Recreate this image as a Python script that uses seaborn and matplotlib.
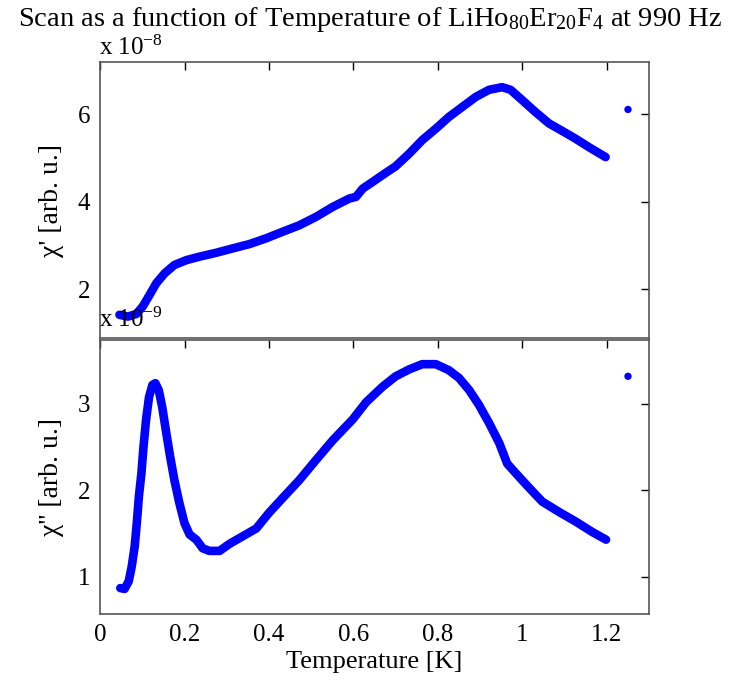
import matplotlib
matplotlib.use("Agg")
import matplotlib.pyplot as plt
import seaborn as sns
import pandas as pd

sns.set_theme(style="white")
plt.rcParams['font.family'] = ['Liberation Serif', 'DejaVu Serif']
plt.rcParams['mathtext.fontset'] = 'custom'
plt.rcParams['mathtext.rm'] = 'Liberation Serif'
plt.rcParams['mathtext.it'] = 'Liberation Serif'
plt.rcParams['text.color'] = 'black'
plt.rcParams['axes.labelcolor'] = 'black'
plt.rcParams['xtick.color'] = 'black'
plt.rcParams['ytick.color'] = 'black'

# chi' (x 1e-8)
t_re = [0.046, 0.066, 0.086, 0.101, 0.117, 0.133, 0.153, 0.176, 0.204, 0.235, 0.275,
        0.314, 0.354, 0.393, 0.432, 0.472, 0.511, 0.551, 0.59, 0.606, 0.622, 0.645,
        0.669, 0.70, 0.732, 0.763, 0.795, 0.826, 0.858, 0.89, 0.921, 0.952, 0.972,
        1.0, 1.031, 1.063, 1.094, 1.126, 1.157, 1.197]
chi_re = [1.41, 1.37, 1.43, 1.60, 1.86, 2.13, 2.36, 2.55, 2.66, 2.74, 2.83,
          2.93, 3.03, 3.16, 3.31, 3.46, 3.65, 3.88, 4.07, 4.11, 4.30, 4.45,
          4.61, 4.81, 5.10, 5.41, 5.67, 5.94, 6.17, 6.40, 6.56, 6.62, 6.56,
          6.32, 6.05, 5.79, 5.62, 5.44, 5.25, 5.02]
t_re_out = [1.25]
chi_re_out = [6.11]

# chi'' (x 1e-9)
t_im = [0.048, 0.058, 0.068, 0.075, 0.082, 0.087, 0.092, 0.098, 0.103, 0.109, 0.116,
        0.124, 0.131, 0.139, 0.147, 0.157, 0.166, 0.176, 0.188, 0.2, 0.212, 0.228,
        0.243, 0.259, 0.283, 0.306, 0.338, 0.37, 0.40, 0.432, 0.472, 0.511, 0.551,
        0.598, 0.63, 0.669, 0.70, 0.732, 0.763, 0.795, 0.826, 0.85, 0.874, 0.897,
        0.921, 0.945, 0.964, 0.984, 1.016, 1.047, 1.087, 1.126, 1.165, 1.198]
chi_im = [0.87, 0.86, 0.95, 1.12, 1.35, 1.62, 1.93, 2.20, 2.51, 2.82, 3.08,
          3.22, 3.24, 3.16, 2.97, 2.66, 2.39, 2.12, 1.85, 1.62, 1.49, 1.43,
          1.33, 1.30, 1.30, 1.38, 1.47, 1.56, 1.74, 1.91, 2.12, 2.35, 2.58,
          2.82, 3.02, 3.20, 3.32, 3.40, 3.46, 3.46, 3.39, 3.30, 3.16, 2.99,
          2.78, 2.55, 2.31, 2.20, 2.03, 1.87, 1.75, 1.64, 1.52, 1.43]
t_im_out = [1.25]
chi_im_out = [3.32]

xticks = [0, 0.2, 0.4, 0.6, 0.8, 1.0, 1.2]
xticklabels = ['0', '0.2', '0.4', '0.6', '0.8', '1', '1.2']

df_re = pd.DataFrame({'T': t_re, 'chi': chi_re})
df_im = pd.DataFrame({'T': t_im, 'chi': chi_im})

fig = plt.figure(figsize=(7.41, 6.92), dpi=100)
ax1 = fig.add_axes([0.135, 0.5116, 0.741, 0.3984])
ax2 = fig.add_axes([0.135, 0.1127, 0.741, 0.396])

blue = '#0000ff'
for ax, df, tx, ty in [(ax1, df_re, t_re_out, chi_re_out), (ax2, df_im, t_im_out, chi_im_out)]:
    sns.lineplot(data=df, x='T', y='chi', ax=ax, color=blue, linewidth=6.2,
                 solid_capstyle='round', solid_joinstyle='round', legend=False,
                 sort=False)
    sns.scatterplot(x=tx, y=ty, ax=ax, color=blue, s=28, edgecolor='none', legend=False)
    ax.set_xlim(0, 1.3)
    ax.set_xticks(xticks)
    ax.tick_params(direction='in', length=6, width=1, top=True, right=True,
                   labelsize=18, pad=7)
    for sp in ax.spines.values():
        sp.set_color('#555555')
        sp.set_linewidth(1.2)
    ax.set_xlabel('')

ax1.set_ylim(0.88, 7.19)
ax1.set_yticks([2, 4, 6])
ax1.set_yticklabels(['2', '4', '6'])
ax1.set_xticklabels([])
ax1.set_ylabel("χ' [arb. u.]", fontsize=20, labelpad=10)

ax2.set_ylim(0.57, 3.74)
ax2.set_yticks([1, 2, 3])
ax2.set_yticklabels(['1', '2', '3'])
ax2.set_xticklabels(xticklabels)
ax2.set_xlabel('Temperature [K]', fontsize=19, labelpad=4)
ax2.set_ylabel("χ'' [arb. u.]", fontsize=20, labelpad=10)

fig.text(0.133, 0.92, 'x 10$^{-8}$', fontsize=18, ha='left', va='baseline')
fig.text(0.133, 0.527, 'x 10$^{-9}$', fontsize=18, ha='left', va='baseline')
fig.text(0.5, 0.962, 'Scan as a function of Temperature of LiHo$_{80}$Er$_{20}$F$_4$ at 990 Hz',
         fontsize=20.5, ha='center', va='baseline')

fig.savefig('out.png', dpi=100, facecolor='white')
